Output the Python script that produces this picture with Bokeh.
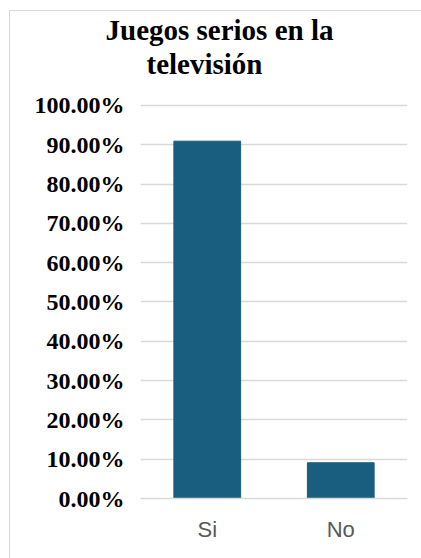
from bokeh.plotting import figure
from bokeh.models import Range1d, NumeralTickFormatter, Title, FixedTicker
from bokeh.embed import file_html
from bokeh.resources import INLINE

categories = ["Si", "No"]
values = [0.9091, 0.0909]
title_lines = ["Juegos serios en la", "televisión"]
y_ticks = [0, 0.1, 0.2, 0.3, 0.4, 0.5, 0.6, 0.7, 0.8, 0.9, 1.0]

p = figure(x_range=categories, y_range=Range1d(0, 1.066), width=412, height=548,
           output_backend="svg", toolbar_location=None,
           min_border_left=130, min_border_right=15, min_border_top=68, min_border_bottom=61)
p.margin = (10, 0, 0, 9)
p.styles = {"border-left": "1px solid #d9d9d9", "border-top": "1px solid #d9d9d9"}
p.outline_line_color = None
p.background_fill_color = "white"
p.border_fill_color = "white"

p.vbar(x=categories, top=values, width=0.5, color="#195E7E")

p.yaxis.ticker = FixedTicker(ticks=y_ticks)
p.yaxis.formatter = NumeralTickFormatter(format="0.00%")
p.yaxis.axis_line_color = None
p.yaxis.major_tick_line_color = None
p.yaxis.minor_tick_line_color = None
p.yaxis.major_label_standoff = 10
p.yaxis.major_label_text_font = "Liberation Serif"
p.yaxis.major_label_text_font_style = "bold"
p.yaxis.major_label_text_font_size = "24px"
p.yaxis.major_label_text_color = "black"

p.xaxis.axis_line_color = "#d9d9d9"
p.xaxis.axis_line_width = 1.5
p.xaxis.major_tick_line_color = None
p.xaxis.minor_tick_line_color = None
p.xaxis.major_label_standoff = 12
p.xaxis.major_label_text_font = "Liberation Sans"
p.xaxis.major_label_text_font_size = "22px"
p.xaxis.major_label_text_color = "#595959"

p.xgrid.grid_line_color = None
p.ygrid.grid_line_color = "#d9d9d9"
p.ygrid.grid_line_width = 1.5

offsets = [-35, 6]
for line, off in reversed(list(zip(title_lines, offsets))):
    p.add_layout(Title(text=line, align="left", offset=off, standoff=0,
                       text_font="Liberation Serif", text_font_style="bold",
                       text_font_size="29px", text_color="black"), "above")

open("out.html", "w").write(file_html(p, INLINE))
